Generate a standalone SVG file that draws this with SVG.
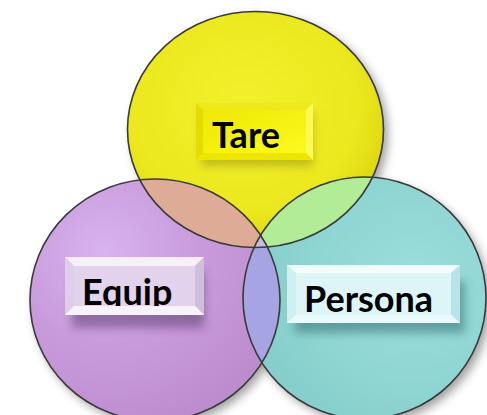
<svg xmlns="http://www.w3.org/2000/svg" width="487" height="415" viewBox="0 0 487 415">
  <defs>
    <style>
      .outline { fill: none; stroke: #3a3a3a; stroke-width: 1.6; }
      .label { font-family: Lato, "Liberation Sans", sans-serif; font-weight: bold; font-size: 36px; fill: #000; }
    </style>
    <!-- soft shadow under the circles -->
    <filter id="circleShadow" x="-20%" y="-20%" width="140%" height="140%">
      <feGaussianBlur stdDeviation="5"/>
    </filter>
    <!-- soft shadow under the label plates -->
    <filter id="plateShadow" x="-30%" y="-60%" width="160%" height="220%">
      <feGaussianBlur stdDeviation="5"/>
    </filter>

    <radialGradient id="gradYellow" cx="45%" cy="40%" r="60%">
      <stop offset="0" stop-color="#f3f02c"/>
      <stop offset="0.75" stop-color="#ece81e"/>
      <stop offset="1" stop-color="#dcd60e"/>
    </radialGradient>
    <radialGradient id="gradPurple" cx="30%" cy="30%" r="75%">
      <stop offset="0" stop-color="#d7b3ee"/>
      <stop offset="0.5" stop-color="#c99bdc"/>
      <stop offset="1" stop-color="#bd8ccf"/>
    </radialGradient>
    <radialGradient id="gradTeal" cx="70%" cy="45%" r="70%">
      <stop offset="0" stop-color="#9cdedb"/>
      <stop offset="0.6" stop-color="#8fd5d2"/>
      <stop offset="1" stop-color="#84cdca"/>
    </radialGradient>
    <linearGradient id="gradTareFace" x1="0" y1="0" x2="1" y2="1">
      <stop offset="0" stop-color="#ece600"/>
      <stop offset="1" stop-color="#fdfb20"/>
    </linearGradient>

    <clipPath id="clipY"><ellipse cx="255.5" cy="129.5" rx="128" ry="118"/></clipPath>
    <clipPath id="clipP"><ellipse cx="155" cy="300" rx="125" ry="121"/></clipPath>
    <clipPath id="clipEquip"><rect x="65" y="257" width="139" height="49"/></clipPath>
  </defs>

  <rect width="487" height="415" fill="#ffffff"/>

  <!-- circle shadows -->
  <g filter="url(#circleShadow)" fill="#555" opacity="0.55">
    <ellipse cx="260" cy="134" rx="128" ry="118"/>
    <ellipse cx="159" cy="305" rx="125" ry="121"/>
    <ellipse cx="369" cy="303" rx="121.5" ry="121"/>
  </g>

  <g id="circle-equip">
    <ellipse cx="155" cy="300" rx="125" ry="121" fill="url(#gradPurple)"/>
  </g>
  <g id="circle-persona">
    <ellipse cx="364.5" cy="298" rx="121.5" ry="121" fill="url(#gradTeal)"/>
  </g>
  <g id="circle-tare">
    <ellipse cx="255.5" cy="129.5" rx="128" ry="118" fill="url(#gradYellow)"/>
  </g>

  <!-- overlap areas -->
  <g id="overlaps">
    <ellipse cx="155" cy="300" rx="125" ry="121" fill="#deac96" clip-path="url(#clipY)"/>
    <ellipse cx="364.5" cy="298" rx="121.5" ry="121" fill="#b2ec96" clip-path="url(#clipY)"/>
    <ellipse cx="364.5" cy="298" rx="121.5" ry="121" fill="#a6a4e2" clip-path="url(#clipP)"/>
    <g clip-path="url(#clipY)">
      <ellipse cx="364.5" cy="298" rx="121.5" ry="121" fill="#c6bcdf" clip-path="url(#clipP)"/>
    </g>
  </g>

  <!-- circle outlines -->
  <g id="outlines">
    <ellipse class="outline" cx="155" cy="300" rx="125" ry="121"/>
    <ellipse class="outline" cx="364.5" cy="298" rx="121.5" ry="121"/>
    <ellipse class="outline" cx="255.5" cy="129.5" rx="128" ry="118"/>
  </g>

  <!-- Tare plate -->
  <g id="label-tare">
    <rect x="201" y="112" width="112" height="54" fill="#6a6400" opacity="0.35" filter="url(#plateShadow)"/>
    <rect x="196" y="103" width="117" height="57" fill="url(#gradTareFace)"/>
    <polygon points="196,103 313,103 306,110 203,110" fill="#efe81a"/>
    <polygon points="196,103 203,110 203,153 196,160" fill="#e4dc00"/>
    <polygon points="313,103 306,110 306,153 313,160" fill="#fbfa58"/>
    <polygon points="196,160 313,160 306,153 203,153" fill="#ece600"/>
    <text class="label" x="212" y="148">Tare</text>
  </g>

  <!-- Equip plate -->
  <g id="label-equip">
    <rect x="72" y="272" width="132" height="56" fill="#4a2a5a" opacity="0.45" filter="url(#plateShadow)"/>
    <rect x="65" y="257" width="139" height="58" fill="#e2d2ec"/>
    <polygon points="65,257 204,257 195,266 74,266" fill="#f6f0fa"/>
    <polygon points="65,257 74,266 74,306 65,315" fill="#ddcfea"/>
    <polygon points="204,257 195,266 195,306 204,315" fill="#cebfdc"/>
    <polygon points="65,315 204,315 195,306 74,306" fill="#f7f2fb"/>
    <text class="label" x="82" y="305" clip-path="url(#clipEquip)">Equip</text>
  </g>

  <!-- Persona plate -->
  <g id="label-persona">
    <rect x="295" y="281" width="170" height="52" fill="#1e5a5a" opacity="0.45" filter="url(#plateShadow)"/>
    <rect x="287" y="265" width="173" height="58" fill="#ddf5f7"/>
    <polygon points="287,265 460,265 451,273 296,273" fill="#f3fcfc"/>
    <polygon points="287,265 296,273 296,315 287,323" fill="#cfeff1"/>
    <polygon points="460,265 451,273 451,315 460,323" fill="#b9e3ea"/>
    <polygon points="287,323 460,323 451,315 296,315" fill="#e8fafb"/>
    <text class="label" x="304" y="312">Persona</text>
  </g>
</svg>
